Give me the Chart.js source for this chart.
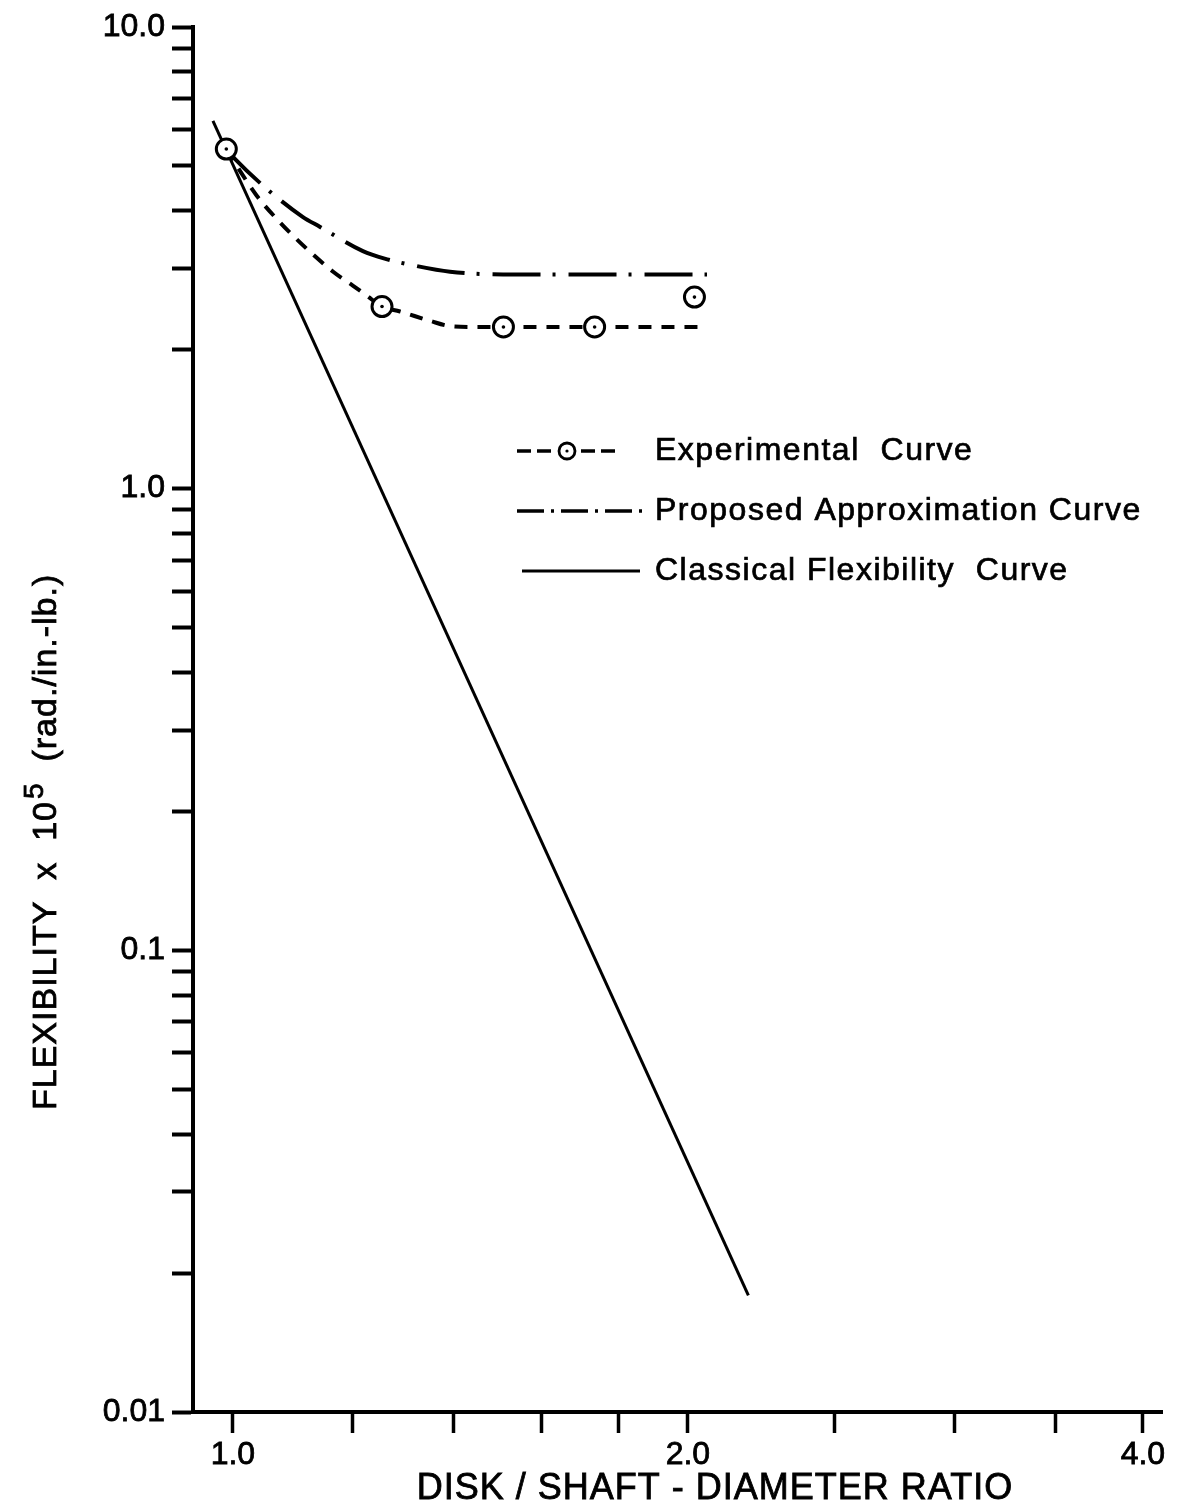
<!DOCTYPE html>
<html>
<head>
<meta charset="utf-8">
<title>Flexibility vs Disk/Shaft Diameter Ratio</title>
<script src="https://cdn.jsdelivr.net/npm/chart.js@4.4.1/dist/chart.umd.min.js"></script>
<style>
  html, body { margin: 0; padding: 0; background: #fff; }
  #flexChart { display: block; }
</style>
</head>
<body>
<canvas id="flexChart" width="1185" height="1506"></canvas>
<script>
// data (x = disk/shaft diameter ratio, y = flexibility x 10^5)
const expX = [0.99, 1.255, 1.51, 1.735, 2.02];
const expY = [5.44, 2.48, 2.24, 2.24, 2.6];

// smooth dashed curve through the experimental points
const expCurveX = [0.99, 1.006, 1.037, 1.069, 1.107, 1.165, 1.201, 1.226, 1.255, 1.29, 1.35, 1.392, 1.45, 1.51, 1.75, 2.056];
const expCurveY = [5.44, 5.0, 4.31, 3.84, 3.42, 2.95, 2.75, 2.62, 2.48, 2.42, 2.31, 2.25, 2.24, 2.24, 2.24, 2.24];

// proposed approximation (dash-dot)
const propX = [0.99, 1.003, 1.053, 1.112, 1.142, 1.219, 1.26, 1.32, 1.392, 1.537, 2.059];
const propY = [5.44, 5.18, 4.46, 3.88, 3.69, 3.27, 3.15, 3.04, 2.95, 2.91, 2.91];

// classical flexibility (straight on log-log)
const classX = [0.97, 2.193];
const classY = [6.26, 0.0179];

// axis ticks
const xTicks = [1.0, 1.2, 1.4, 1.6, 1.8, 2.0, 2.5, 3.0, 3.5, 4.0];
const xTickLabels = ['1.0', '', '', '', '', '2.0', '', '', '', '4.0'];
const yTicks = [
  0.01, 0.02, 0.03, 0.04, 0.05, 0.06, 0.07, 0.08, 0.09,
  0.1, 0.2, 0.3, 0.4, 0.5, 0.6, 0.7, 0.8, 0.9,
  1, 2, 3, 4, 5, 6, 7, 8, 9,
  10
];
const yTickLabels = [
  '0.01', '', '', '', '', '', '', '', '',
  '0.1', '', '', '', '', '', '', '', '',
  '1.0', '', '', '', '', '', '', '', '',
  '10.0'
];

const legendLabels = ['Experimental  Curve', 'Proposed Approximation Curve', 'Classical Flexibility  Curve'];

const FONT = '"Liberation Sans", Arial, sans-serif';

function toPoints(xs, ys) {
  return xs.map((x, i) => ({ x: x, y: ys[i] }));
}

// fill + stroke a bit so the lettering is as heavy as the drawing
function heavyText(ctx, t, x, y) {
  ctx.fillText(t, x, y);
  ctx.strokeText(t, x, y);
}

// titles + legend drawn on top of the chart
const annotations = {
  id: 'annotations',
  beforeDraw: (chart) => {
    const ctx = chart.ctx;
    ctx.save();
    ctx.fillStyle = '#fff';
    ctx.fillRect(0, 0, chart.width, chart.height);
    ctx.restore();
  },
  afterDraw: (chart) => {
    const ctx = chart.ctx;
    ctx.save();
    ctx.fillStyle = '#000';
    ctx.strokeStyle = '#000';
    ctx.lineWidth = 0.8;

    // y axis title, rotated
    ctx.save();
    ctx.translate(56, 1110);
    ctx.rotate(-Math.PI / 2);
    ctx.textAlign = 'left';
    ctx.textBaseline = 'alphabetic';
    ctx.letterSpacing = '1px';
    ctx.font = '34px ' + FONT;
    let part1 = 'FLEXIBILITY  x  10';
    heavyText(ctx, part1, 0, 0);
    let w = ctx.measureText(part1).width;
    ctx.font = '28px ' + FONT;
    heavyText(ctx, '5', w + 2, -13);
    w += ctx.measureText('5').width + 2;
    ctx.font = '34px ' + FONT;
    heavyText(ctx, '  (rad./in.-lb.)', w, 0);
    ctx.restore();

    // x axis title
    ctx.save();
    ctx.font = '36px ' + FONT;
    ctx.letterSpacing = '1px';
    ctx.textAlign = 'center';
    ctx.textBaseline = 'alphabetic';
    heavyText(ctx, 'DISK / SHAFT - DIAMETER RATIO', 715, 1499);
    ctx.restore();

    // legend
    const rows = [451, 511, 571];
    ctx.save();
    ctx.font = '32px ' + FONT;
    ctx.letterSpacing = '1.5px';
    ctx.textAlign = 'left';
    ctx.textBaseline = 'middle';
    ctx.lineWidth = 0.7;
    legendLabels.forEach((t, i) => heavyText(ctx, t, 655, rows[i]));
    ctx.restore();

    ctx.lineWidth = 3.5;
    // experimental sample
    ctx.setLineDash([14, 6]);
    ctx.beginPath();
    ctx.moveTo(517, rows[0]); ctx.lineTo(553, rows[0]);
    ctx.moveTo(581, rows[0]); ctx.lineTo(619, rows[0]);
    ctx.stroke();
    ctx.setLineDash([]);
    ctx.beginPath();
    ctx.arc(567, rows[0], 8, 0, Math.PI * 2);
    ctx.fillStyle = '#fff';
    ctx.fill();
    ctx.lineWidth = 2.8;
    ctx.stroke();
    ctx.fillStyle = '#000';
    ctx.beginPath();
    ctx.arc(567, rows[0], 1.6, 0, Math.PI * 2);
    ctx.fill();
    // proposed sample
    ctx.lineWidth = 3.5;
    ctx.setLineDash([27, 7, 3, 7]);
    ctx.beginPath();
    ctx.moveTo(517, rows[1]); ctx.lineTo(642, rows[1]);
    ctx.stroke();
    // classical sample
    ctx.setLineDash([]);
    ctx.lineWidth = 3;
    ctx.beginPath();
    ctx.moveTo(522, rows[2]); ctx.lineTo(640, rows[2]);
    ctx.stroke();

    ctx.restore();
  }
};

const flex_config = {
  type: 'scatter',
  data: {
    datasets: [
      {
        label: 'centre dots',
        data: toPoints(expX, expY),
        pointRadius: 1.8,
        pointBackgroundColor: '#000',
        pointBorderWidth: 0,
        showLine: false,
        order: 0
      },
      {
        label: 'Experimental points',
        data: toPoints(expX, expY),
        pointRadius: 10,
        pointBorderWidth: 3,
        pointBorderColor: '#000',
        pointBackgroundColor: '#fff',
        showLine: false,
        order: 1
      },
      {
        label: 'Experimental Curve',
        data: toPoints(expCurveX, expCurveY),
        showLine: true,
        borderColor: '#000',
        borderWidth: 4,
        borderDash: [13, 10],
        pointRadius: 0,
        cubicInterpolationMode: 'monotone',
        order: 2
      },
      {
        label: 'Proposed Approximation Curve',
        data: toPoints(propX, propY),
        showLine: true,
        borderColor: '#000',
        borderWidth: 4,
        borderDash: [48, 12, 3, 13],
        pointRadius: 0,
        cubicInterpolationMode: 'monotone',
        order: 3
      },
      {
        label: 'Classical Flexibility Curve',
        data: toPoints(classX, classY),
        showLine: true,
        borderColor: '#000',
        borderWidth: 3,
        pointRadius: 0,
        order: 4
      }
    ]
  },
  options: {
    responsive: false,
    animation: false,
    devicePixelRatio: 1,
    layout: { padding: { top: 27, right: 23, left: 0, bottom: 0 } },
    plugins: {
      legend: { display: false },
      tooltip: { enabled: false }
    },
    scales: {
      x: {
        type: 'logarithmic',
        min: 0.941,
        max: 4.118,
        afterBuildTicks: (axis) => { axis.ticks = xTicks.map(v => ({ value: v })); },
        afterFit: (axis) => { axis.height = 94; },
        ticks: {
          callback: (value, index) => xTickLabels[index],
          font: { family: FONT, size: 32 },
          color: '#000',
          textStrokeColor: '#000',
          textStrokeWidth: 0.8,
          padding: 3,
          maxRotation: 0,
          autoSkip: false
        },
        grid: { drawOnChartArea: false, tickLength: 21, tickWidth: 3.5, tickColor: '#000' },
        border: { color: '#000', width: 4 }
      },
      y: {
        type: 'logarithmic',
        min: 0.01,
        max: 10,
        afterBuildTicks: (axis) => { axis.ticks = yTicks.map(v => ({ value: v })); },
        afterFit: (axis) => { axis.width = 193; },
        ticks: {
          callback: (value, index) => yTickLabels[index],
          font: { family: FONT, size: 32 },
          color: '#000',
          textStrokeColor: '#000',
          textStrokeWidth: 0.8,
          padding: 7,
          autoSkip: false
        },
        grid: { drawOnChartArea: false, tickLength: 21, tickWidth: 4, tickColor: '#000' },
        border: { color: '#000', width: 4 }
      }
    }
  },
  plugins: [annotations]
};

const flexChart = new Chart(document.getElementById('flexChart'), flex_config);
</script>
</body>
</html>
